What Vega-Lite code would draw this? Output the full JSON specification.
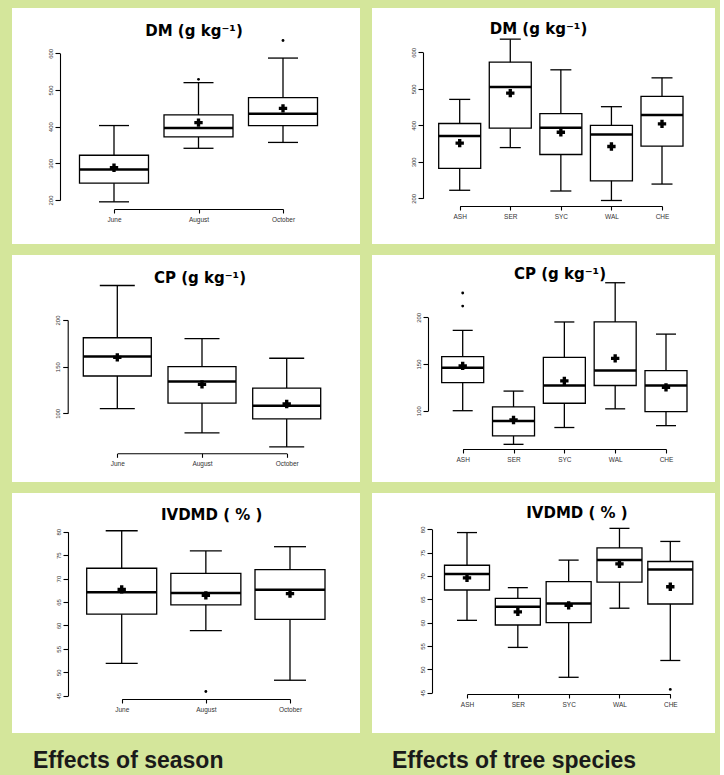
{
  "$schema": "https://vega.github.io/schema/vega-lite/v6.json",
  "background": "#d4e69b",
  "padding": {"left": 12, "top": 8, "right": 0, "bottom": 0},
  "datasets": {
    "season": [
      {"var": "DM", "group": "June", "lo": 195, "q1": 246, "med": 283, "q3": 322, "hi": 403, "mean": 288},
      {"var": "DM", "group": "August", "lo": 341, "q1": 372, "med": 396, "q3": 432, "hi": 520, "mean": 411},
      {"var": "DM", "group": "October", "lo": 357, "q1": 403, "med": 435, "q3": 479, "hi": 587, "mean": 450},
      {"var": "CP", "group": "June", "lo": 105, "q1": 140, "med": 161, "q3": 181, "hi": 237, "mean": 160},
      {"var": "CP", "group": "August", "lo": 79, "q1": 111, "med": 134, "q3": 150, "hi": 180, "mean": 131},
      {"var": "CP", "group": "October", "lo": 64, "q1": 94, "med": 108, "q3": 127, "hi": 159, "mean": 110},
      {"var": "IVDMD", "group": "June", "lo": 51.9, "q1": 62.4, "med": 67.1, "q3": 72.2, "hi": 80.2, "mean": 67.7},
      {"var": "IVDMD", "group": "August", "lo": 58.9, "q1": 64.4, "med": 66.9, "q3": 71.1, "hi": 75.9, "mean": 66.4},
      {"var": "IVDMD", "group": "October", "lo": 48.3, "q1": 61.3, "med": 67.6, "q3": 71.9, "hi": 76.8, "mean": 66.8}
    ],
    "species": [
      {"var": "DM", "group": "ASH", "lo": 222, "q1": 282, "med": 371, "q3": 405, "hi": 471, "mean": 351},
      {"var": "DM", "group": "SER", "lo": 339, "q1": 392, "med": 505, "q3": 573, "hi": 636, "mean": 488},
      {"var": "DM", "group": "SYC", "lo": 220, "q1": 320, "med": 393, "q3": 432, "hi": 552, "mean": 381},
      {"var": "DM", "group": "WAL", "lo": 194, "q1": 248, "med": 375, "q3": 400, "hi": 451, "mean": 342},
      {"var": "DM", "group": "CHE", "lo": 239, "q1": 343, "med": 428, "q3": 479, "hi": 530, "mean": 404},
      {"var": "CP", "group": "ASH", "lo": 100, "q1": 130, "med": 146, "q3": 158, "hi": 186, "mean": 148},
      {"var": "CP", "group": "SER", "lo": 64, "q1": 73, "med": 89, "q3": 104, "hi": 121, "mean": 90},
      {"var": "CP", "group": "SYC", "lo": 82, "q1": 108, "med": 127, "q3": 157, "hi": 195, "mean": 132},
      {"var": "CP", "group": "WAL", "lo": 102, "q1": 127, "med": 143, "q3": 195, "hi": 237, "mean": 156},
      {"var": "CP", "group": "CHE", "lo": 84, "q1": 99, "med": 127, "q3": 143, "hi": 182, "mean": 125},
      {"var": "IVDMD", "group": "ASH", "lo": 60.5, "q1": 67.0, "med": 70.4, "q3": 72.3, "hi": 79.3, "mean": 69.6},
      {"var": "IVDMD", "group": "SER", "lo": 54.7, "q1": 59.5, "med": 63.4, "q3": 65.2, "hi": 67.5, "mean": 62.3},
      {"var": "IVDMD", "group": "SYC", "lo": 48.3, "q1": 60.0, "med": 64.1, "q3": 68.8, "hi": 73.4, "mean": 63.7},
      {"var": "IVDMD", "group": "WAL", "lo": 63.1, "q1": 68.7, "med": 73.4, "q3": 76.0, "hi": 80.2, "mean": 72.6},
      {"var": "IVDMD", "group": "CHE", "lo": 51.9, "q1": 64.0, "med": 71.4, "q3": 73.1, "hi": 77.4, "mean": 67.7}
    ],
    "out_season": [
      {"var": "DM", "group": "August", "value": 529},
      {"var": "DM", "group": "October", "value": 635},
      {"var": "IVDMD", "group": "August", "value": 45.9}
    ],
    "out_species": [
      {"var": "CP", "group": "ASH", "value": 226},
      {"var": "CP", "group": "ASH", "value": 212},
      {"var": "IVDMD", "group": "CHE", "value": 45.7}
    ],
    "captions": [
      {"side": "season", "label": "Effects of season"},
      {"side": "species", "label": "Effects of tree species"}
    ]
  },
  "vconcat": [
    {
      "hconcat": [
        {
          "width": 348, "height": 236,
          "title": {"text": "DM (g kg⁻¹)", "offset": -31, "dx": 8},
          "data": {"name": "season"},
          "transform": [{"filter": "datum.var === 'DM'"}],
          "encoding": {"x": {"field": "group", "type": "ordinal", "title": null, "sort": ["June", "August", "October"], "scale": {"type": "point", "range": [102, 271], "padding": 0}, "axis": {"offset": -35}}},
          "layer": [
            {"mark": {"type": "rule", "color": "black", "strokeWidth": 1.3}, "encoding": {"y": {"field": "lo", "type": "quantitative", "title": null, "scale": {"domain": [200, 600], "range": [192, 45.3], "nice": false, "zero": false}, "axis": {"values": [200, 300, 400, 500, 600], "tickCount": 12, "offset": -48, "labelOverlap": false}}, "y2": {"field": "hi"}}},
            {"mark": {"type": "tick", "color": "black", "size": 30, "thickness": 1.3, "opacity": 1}, "encoding": {"y": {"field": "lo", "type": "quantitative", "title": null}}},
            {"mark": {"type": "tick", "color": "black", "size": 30, "thickness": 1.3, "opacity": 1}, "encoding": {"y": {"field": "hi", "type": "quantitative", "title": null}}},
            {"mark": {"type": "bar", "size": 69, "fill": "white", "stroke": "black", "strokeWidth": 1.3}, "encoding": {"y": {"field": "q1", "type": "quantitative", "title": null}, "y2": {"field": "q3"}}},
            {"mark": {"type": "tick", "color": "black", "size": 69, "thickness": 2.5, "opacity": 1}, "encoding": {"y": {"field": "med", "type": "quantitative", "title": null}}},
            {"mark": {"type": "point", "shape": "cross", "filled": true, "color": "black", "size": 70, "opacity": 1}, "encoding": {"y": {"field": "mean", "type": "quantitative", "title": null}}},
            {"data": {"name": "out_season"}, "transform": [{"filter": "datum.var === 'DM'"}], "mark": {"type": "circle", "color": "black", "size": 8, "opacity": 1}, "encoding": {"y": {"field": "value", "type": "quantitative", "title": null}}}
          ]
        },
        {
          "width": 343, "height": 236,
          "title": {"text": "DM (g kg⁻¹)", "offset": -29, "dx": -5},
          "data": {"name": "species"},
          "transform": [{"filter": "datum.var === 'DM'"}],
          "encoding": {"x": {"field": "group", "type": "ordinal", "title": null, "sort": ["ASH", "SER", "SYC", "WAL", "CHE"], "scale": {"type": "point", "range": [87.7, 290], "padding": 0}, "axis": {"offset": -38}}},
          "layer": [
            {"mark": {"type": "rule", "color": "black", "strokeWidth": 1.3}, "encoding": {"y": {"field": "lo", "type": "quantitative", "title": null, "scale": {"domain": [200, 600], "range": [190.3, 44.3], "nice": false, "zero": false}, "axis": {"values": [200, 300, 400, 500, 600], "tickCount": 12, "offset": -51, "labelOverlap": false}}, "y2": {"field": "hi"}}},
            {"mark": {"type": "tick", "color": "black", "size": 21, "thickness": 1.3, "opacity": 1}, "encoding": {"y": {"field": "lo", "type": "quantitative", "title": null}}},
            {"mark": {"type": "tick", "color": "black", "size": 21, "thickness": 1.3, "opacity": 1}, "encoding": {"y": {"field": "hi", "type": "quantitative", "title": null}}},
            {"mark": {"type": "bar", "size": 42, "fill": "white", "stroke": "black", "strokeWidth": 1.3}, "encoding": {"y": {"field": "q1", "type": "quantitative", "title": null}, "y2": {"field": "q3"}}},
            {"mark": {"type": "tick", "color": "black", "size": 42, "thickness": 2.5, "opacity": 1}, "encoding": {"y": {"field": "med", "type": "quantitative", "title": null}}},
            {"mark": {"type": "point", "shape": "cross", "filled": true, "color": "black", "size": 70, "opacity": 1}, "encoding": {"y": {"field": "mean", "type": "quantitative", "title": null}}}
          ]
        }
      ],
      "spacing": 12, "bounds": "flush"
    },
    {
      "hconcat": [
        {
          "width": 348, "height": 227,
          "title": {"text": "CP (g kg⁻¹)", "offset": -31, "dx": 14},
          "data": {"name": "season"},
          "transform": [{"filter": "datum.var === 'CP'"}],
          "encoding": {"x": {"field": "group", "type": "ordinal", "title": null, "sort": ["June", "August", "October"], "scale": {"type": "point", "range": [105.3, 274.7], "padding": 0}, "axis": {"offset": -28.7}}},
          "layer": [
            {"mark": {"type": "rule", "color": "black", "strokeWidth": 1.3}, "encoding": {"y": {"field": "lo", "type": "quantitative", "title": null, "scale": {"domain": [100, 200], "range": [158.3, 65], "nice": false, "zero": false}, "axis": {"values": [100, 150, 200], "tickCount": 12, "offset": -55.7, "labelOverlap": false}}, "y2": {"field": "hi"}}},
            {"mark": {"type": "tick", "color": "black", "size": 35, "thickness": 1.3, "opacity": 1}, "encoding": {"y": {"field": "lo", "type": "quantitative", "title": null}}},
            {"mark": {"type": "tick", "color": "black", "size": 35, "thickness": 1.3, "opacity": 1}, "encoding": {"y": {"field": "hi", "type": "quantitative", "title": null}}},
            {"mark": {"type": "bar", "size": 68, "fill": "white", "stroke": "black", "strokeWidth": 1.3}, "encoding": {"y": {"field": "q1", "type": "quantitative", "title": null}, "y2": {"field": "q3"}}},
            {"mark": {"type": "tick", "color": "black", "size": 68, "thickness": 2.5, "opacity": 1}, "encoding": {"y": {"field": "med", "type": "quantitative", "title": null}}},
            {"mark": {"type": "point", "shape": "cross", "filled": true, "color": "black", "size": 70, "opacity": 1}, "encoding": {"y": {"field": "mean", "type": "quantitative", "title": null}}}
          ]
        },
        {
          "width": 343, "height": 227,
          "title": {"text": "CP (g kg⁻¹)", "offset": -27, "dx": 16.5},
          "data": {"name": "species"},
          "transform": [{"filter": "datum.var === 'CP'"}],
          "encoding": {"x": {"field": "group", "type": "ordinal", "title": null, "sort": ["ASH", "SER", "SYC", "WAL", "CHE"], "scale": {"type": "point", "range": [90.7, 294], "padding": 0}, "axis": {"offset": -33}}},
          "layer": [
            {"mark": {"type": "rule", "color": "black", "strokeWidth": 1.3}, "encoding": {"y": {"field": "lo", "type": "quantitative", "title": null, "scale": {"domain": [100, 200], "range": [155.7, 62.3], "nice": false, "zero": false}, "axis": {"values": [100, 150, 200], "tickCount": 12, "offset": -56, "labelOverlap": false}}, "y2": {"field": "hi"}}},
            {"mark": {"type": "tick", "color": "black", "size": 20, "thickness": 1.3, "opacity": 1}, "encoding": {"y": {"field": "lo", "type": "quantitative", "title": null}}},
            {"mark": {"type": "tick", "color": "black", "size": 20, "thickness": 1.3, "opacity": 1}, "encoding": {"y": {"field": "hi", "type": "quantitative", "title": null}}},
            {"mark": {"type": "bar", "size": 42, "fill": "white", "stroke": "black", "strokeWidth": 1.3}, "encoding": {"y": {"field": "q1", "type": "quantitative", "title": null}, "y2": {"field": "q3"}}},
            {"mark": {"type": "tick", "color": "black", "size": 42, "thickness": 2.5, "opacity": 1}, "encoding": {"y": {"field": "med", "type": "quantitative", "title": null}}},
            {"mark": {"type": "point", "shape": "cross", "filled": true, "color": "black", "size": 70, "opacity": 1}, "encoding": {"y": {"field": "mean", "type": "quantitative", "title": null}}},
            {"data": {"name": "out_species"}, "transform": [{"filter": "datum.var === 'CP'"}], "mark": {"type": "circle", "color": "black", "size": 8, "opacity": 1}, "encoding": {"y": {"field": "value", "type": "quantitative", "title": null}}}
          ]
        }
      ],
      "spacing": 12, "bounds": "flush"
    },
    {
      "hconcat": [
        {
          "width": 348, "height": 240,
          "title": {"text": "IVDMD ( % )", "offset": -30, "dx": 25.7},
          "data": {"name": "season"},
          "transform": [{"filter": "datum.var === 'IVDMD'"}],
          "encoding": {"x": {"field": "group", "type": "ordinal", "title": null, "sort": ["June", "August", "October"], "scale": {"type": "point", "range": [109.7, 278], "padding": 0}, "axis": {"offset": -34}}},
          "layer": [
            {"mark": {"type": "rule", "color": "black", "strokeWidth": 1.3}, "encoding": {"y": {"field": "lo", "type": "quantitative", "title": null, "scale": {"domain": [45, 80], "range": [202.7, 38.7], "nice": false, "zero": false}, "axis": {"values": [45, 50, 55, 60, 65, 70, 75, 80], "tickCount": 12, "offset": -56, "labelOverlap": false}}, "y2": {"field": "hi"}}},
            {"mark": {"type": "tick", "color": "black", "size": 32, "thickness": 1.3, "opacity": 1}, "encoding": {"y": {"field": "lo", "type": "quantitative", "title": null}}},
            {"mark": {"type": "tick", "color": "black", "size": 32, "thickness": 1.3, "opacity": 1}, "encoding": {"y": {"field": "hi", "type": "quantitative", "title": null}}},
            {"mark": {"type": "bar", "size": 70, "fill": "white", "stroke": "black", "strokeWidth": 1.3}, "encoding": {"y": {"field": "q1", "type": "quantitative", "title": null}, "y2": {"field": "q3"}}},
            {"mark": {"type": "tick", "color": "black", "size": 70, "thickness": 2.5, "opacity": 1}, "encoding": {"y": {"field": "med", "type": "quantitative", "title": null}}},
            {"mark": {"type": "point", "shape": "cross", "filled": true, "color": "black", "size": 70, "opacity": 1}, "encoding": {"y": {"field": "mean", "type": "quantitative", "title": null}}},
            {"data": {"name": "out_season"}, "transform": [{"filter": "datum.var === 'IVDMD'"}], "mark": {"type": "circle", "color": "black", "size": 8, "opacity": 1}, "encoding": {"y": {"field": "value", "type": "quantitative", "title": null}}}
          ]
        },
        {
          "width": 343, "height": 240,
          "title": {"text": "IVDMD ( % )", "offset": -28, "dx": 33.5},
          "data": {"name": "species"},
          "transform": [{"filter": "datum.var === 'IVDMD'"}],
          "encoding": {"x": {"field": "group", "type": "ordinal", "title": null, "sort": ["ASH", "SER", "SYC", "WAL", "CHE"], "scale": {"type": "point", "range": [95, 298.3], "padding": 0}, "axis": {"offset": -39}}},
          "layer": [
            {"mark": {"type": "rule", "color": "black", "strokeWidth": 1.3}, "encoding": {"y": {"field": "lo", "type": "quantitative", "title": null, "scale": {"domain": [45, 80], "range": [199.7, 36.3], "nice": false, "zero": false}, "axis": {"values": [45, 50, 55, 60, 65, 70, 75, 80], "tickCount": 12, "offset": -60, "labelOverlap": false}}, "y2": {"field": "hi"}}},
            {"mark": {"type": "tick", "color": "black", "size": 20, "thickness": 1.3, "opacity": 1}, "encoding": {"y": {"field": "lo", "type": "quantitative", "title": null}}},
            {"mark": {"type": "tick", "color": "black", "size": 20, "thickness": 1.3, "opacity": 1}, "encoding": {"y": {"field": "hi", "type": "quantitative", "title": null}}},
            {"mark": {"type": "bar", "size": 45, "fill": "white", "stroke": "black", "strokeWidth": 1.3}, "encoding": {"y": {"field": "q1", "type": "quantitative", "title": null}, "y2": {"field": "q3"}}},
            {"mark": {"type": "tick", "color": "black", "size": 45, "thickness": 2.5, "opacity": 1}, "encoding": {"y": {"field": "med", "type": "quantitative", "title": null}}},
            {"mark": {"type": "point", "shape": "cross", "filled": true, "color": "black", "size": 70, "opacity": 1}, "encoding": {"y": {"field": "mean", "type": "quantitative", "title": null}}},
            {"data": {"name": "out_species"}, "transform": [{"filter": "datum.var === 'IVDMD'"}], "mark": {"type": "circle", "color": "black", "size": 8, "opacity": 1}, "encoding": {"y": {"field": "value", "type": "quantitative", "title": null}}}
          ]
        }
      ],
      "spacing": 12, "bounds": "flush"
    },
    {
      "hconcat": [
        {
          "width": 42, "height": 34, "view": {"fill": "transparent"},
          "data": {"name": "captions"},
          "transform": [{"filter": "datum.side === 'season'"}],
          "mark": {"type": "text", "align": "left", "baseline": "middle", "font": "Liberation Sans", "fontSize": 23, "fontWeight": "bold", "color": "#1a1a1a"},
          "encoding": {"text": {"field": "label"}}
        },
        {
          "width": 656, "height": 34, "view": {"fill": "transparent"},
          "data": {"name": "captions"},
          "transform": [{"filter": "datum.side === 'species'"}],
          "mark": {"type": "text", "align": "left", "baseline": "middle", "font": "Liberation Sans", "fontSize": 23, "fontWeight": "bold", "color": "#1a1a1a"},
          "encoding": {"text": {"field": "label"}}
        }
      ],
      "spacing": 10, "bounds": "flush"
    }
  ],
  "spacing": 11,
  "config": {
    "view": {"stroke": null, "fill": "white"},
    "title": {"font": "DejaVu Sans", "fontSize": 15, "fontWeight": "bold", "color": "black", "anchor": "middle", "frame": "group"},
    "axis": {"domainColor": "black", "tickColor": "black", "labelColor": "#333333", "labelFont": "Liberation Sans", "grid": false, "title": null, "domainWidth": 1.1, "tickWidth": 1.1, "labelOverlap": false},
    "axisY": {"labelAngle": -90, "labelFontSize": 6, "tickSize": 5, "labelPadding": 2, "labelOverlap": false},
    "axisX": {"labelAngle": 0, "labelFontSize": 6.5, "tickSize": 4, "labelPadding": 3}
  }
}
